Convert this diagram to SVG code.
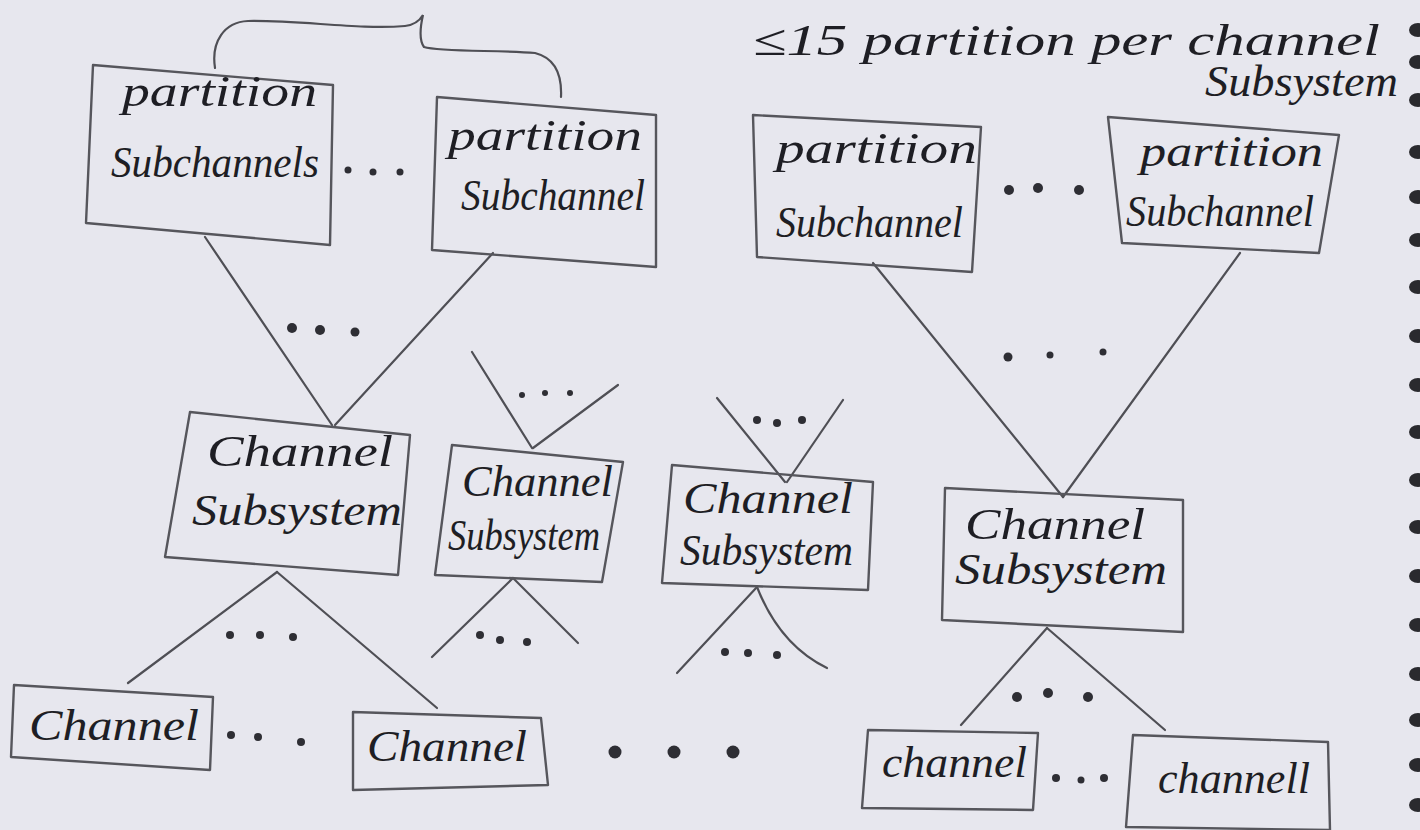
<svg xmlns="http://www.w3.org/2000/svg" width="1420" height="830" viewBox="0 0 1420 830">
<style>
.bg{fill:#e7e7ee}
.box{fill:none;stroke:#56565c;stroke-width:2.4;stroke-linejoin:round}
.ln{fill:none;stroke:#4f4f55;stroke-width:2.2;stroke-linecap:round}
.t{font-family:"Liberation Serif","DejaVu Serif",serif;font-style:italic;fill:#1e1e24;font-size:44px}
.dot{fill:#2e2e34}
.ring{fill:#2a2a2e}
</style>
<rect class="bg" x="0" y="0" width="1420" height="830"/>

<g id="binding">
<ellipse class="ring" cx="1418" cy="30" rx="9" ry="7"/>
<ellipse class="ring" cx="1418" cy="62" rx="9" ry="7"/>
<ellipse class="ring" cx="1418" cy="100" rx="9" ry="7"/>
<ellipse class="ring" cx="1418" cy="152" rx="9" ry="7"/>
<ellipse class="ring" cx="1418" cy="197" rx="9" ry="7"/>
<ellipse class="ring" cx="1418" cy="240" rx="9" ry="7"/>
<ellipse class="ring" cx="1418" cy="287" rx="9" ry="7"/>
<ellipse class="ring" cx="1418" cy="336" rx="9" ry="7"/>
<ellipse class="ring" cx="1418" cy="385" rx="9" ry="7"/>
<ellipse class="ring" cx="1418" cy="432" rx="9" ry="7"/>
<ellipse class="ring" cx="1418" cy="480" rx="9" ry="7"/>
<ellipse class="ring" cx="1418" cy="527" rx="9" ry="7"/>
<ellipse class="ring" cx="1418" cy="576" rx="9" ry="7"/>
<ellipse class="ring" cx="1418" cy="625" rx="9" ry="7"/>
<ellipse class="ring" cx="1418" cy="674" rx="9" ry="7"/>
<ellipse class="ring" cx="1418" cy="720" rx="9" ry="7"/>
<ellipse class="ring" cx="1418" cy="765" rx="9" ry="7"/>
<ellipse class="ring" cx="1418" cy="805" rx="9" ry="7"/>
</g>

<g id="annotation">
<text class="t" x="753" y="55" font-size="48" textLength="627" lengthAdjust="spacingAndGlyphs">≤15 partition per channel</text>
<text class="t" x="1205" y="96" font-size="44" textLength="193" lengthAdjust="spacingAndGlyphs">Subsystem</text>
</g>

<g id="connectors">
<path class="ln" d="M215,68 C211,42 224,22 248,21 C300,20 360,30 405,26 C414,25 420,20 423,15 C420,28 419,40 424,47 C440,52 500,50 535,53 C555,58 562,75 561,97"/>
<line class="ln" x1="205" y1="237" x2="332" y2="425"/>
<line class="ln" x1="493" y1="253" x2="335" y2="425"/>
<line class="ln" x1="873" y1="263" x2="1063" y2="497"/>
<line class="ln" x1="1240" y1="253" x2="1063" y2="497"/>
<line class="ln" x1="472" y1="352" x2="532" y2="448"/>
<line class="ln" x1="618" y1="385" x2="533" y2="448"/>
<line class="ln" x1="717" y1="398" x2="785" y2="482"/>
<line class="ln" x1="843" y1="400" x2="787" y2="482"/>
<line class="ln" x1="277" y1="572" x2="128" y2="683"/>
<line class="ln" x1="277" y1="572" x2="437" y2="708"/>
<line class="ln" x1="513" y1="578" x2="432" y2="657"/>
<line class="ln" x1="513" y1="578" x2="578" y2="643"/>
<line class="ln" x1="757" y1="587" x2="677" y2="673"/>
<path class="ln" d="M757,587 C770,620 790,650 827,668"/>
<line class="ln" x1="1047" y1="628" x2="961" y2="725"/>
<line class="ln" x1="1047" y1="628" x2="1165" y2="730"/>
</g>

<g id="dots">
<circle class="dot" cx="348" cy="170" r="3.5"/><circle class="dot" cx="373" cy="172" r="3.5"/><circle class="dot" cx="400" cy="172" r="3.5"/>
<circle class="dot" cx="1009" cy="190" r="5"/><circle class="dot" cx="1038" cy="188" r="5"/><circle class="dot" cx="1079" cy="190" r="5"/>
<circle class="dot" cx="292" cy="328" r="5"/><circle class="dot" cx="320" cy="330" r="5"/><circle class="dot" cx="355" cy="332" r="4.5"/>
<circle class="dot" cx="522" cy="395" r="3"/><circle class="dot" cx="545" cy="393" r="3"/><circle class="dot" cx="570" cy="393" r="3"/>
<circle class="dot" cx="757" cy="420" r="4"/><circle class="dot" cx="777" cy="423" r="4"/><circle class="dot" cx="802" cy="420" r="4"/>
<circle class="dot" cx="1008" cy="357" r="4.5"/><circle class="dot" cx="1050" cy="355" r="3.5"/><circle class="dot" cx="1103" cy="352" r="3.5"/>
<circle class="dot" cx="230" cy="635" r="4"/><circle class="dot" cx="260" cy="635" r="4"/><circle class="dot" cx="293" cy="637" r="4"/>
<circle class="dot" cx="480" cy="635" r="4"/><circle class="dot" cx="500" cy="640" r="4"/><circle class="dot" cx="527" cy="642" r="4"/>
<circle class="dot" cx="725" cy="652" r="4"/><circle class="dot" cx="748" cy="653" r="4"/><circle class="dot" cx="777" cy="655" r="4"/>
<circle class="dot" cx="1017" cy="697" r="5"/><circle class="dot" cx="1048" cy="693" r="5"/><circle class="dot" cx="1088" cy="697" r="5"/>
<circle class="dot" cx="231" cy="735" r="4"/><circle class="dot" cx="258" cy="737" r="4"/><circle class="dot" cx="301" cy="742" r="4"/>
<circle class="dot" cx="615" cy="752" r="6.5"/><circle class="dot" cx="674" cy="752" r="6.5"/><circle class="dot" cx="733" cy="752" r="6.5"/>
<circle class="dot" cx="1056" cy="778" r="4"/><circle class="dot" cx="1081" cy="780" r="3.5"/><circle class="dot" cx="1104" cy="778" r="4"/>
</g>

<g id="ps1">
<polygon class="box" points="93,65 333,85 330,245 86,223"/>
<text class="t" x="122" y="106" textLength="195" lengthAdjust="spacingAndGlyphs">partition</text>
<text class="t" x="111" y="177" textLength="208" lengthAdjust="spacingAndGlyphs">Subchannels</text>
</g>
<g id="ps2">
<polygon class="box" points="437,97 656,115 656,267 432,250"/>
<text class="t" x="448" y="150" textLength="194" lengthAdjust="spacingAndGlyphs">partition</text>
<text class="t" x="461" y="210" textLength="184" lengthAdjust="spacingAndGlyphs">Subchannel</text>
</g>
<g id="ps3">
<polygon class="box" points="753,115 981,127 972,272 757,257"/>
<text class="t" x="776" y="163" textLength="201" lengthAdjust="spacingAndGlyphs">partition</text>
<text class="t" x="776" y="237" textLength="187" lengthAdjust="spacingAndGlyphs">Subchannel</text>
</g>
<g id="ps4">
<polygon class="box" points="1108,117 1339,135 1319,253 1122,243"/>
<text class="t" x="1140" y="166" textLength="183" lengthAdjust="spacingAndGlyphs">partition</text>
<text class="t" x="1126" y="226" textLength="188" lengthAdjust="spacingAndGlyphs">Subchannel</text>
</g>

<g id="cs1">
<polygon class="box" points="190,412 410,435 398,575 165,557"/>
<text class="t" x="207" y="466" textLength="186" lengthAdjust="spacingAndGlyphs">Channel</text>
<text class="t" x="192" y="525" textLength="210" lengthAdjust="spacingAndGlyphs">Subsystem</text>
</g>
<g id="cs2">
<polygon class="box" points="452,445 623,462 602,582 435,575"/>
<text class="t" x="462" y="496" font-size="40" textLength="151" lengthAdjust="spacingAndGlyphs">Channel</text>
<text class="t" x="448" y="550" font-size="40" textLength="152" lengthAdjust="spacingAndGlyphs">Subsystem</text>
</g>
<g id="cs3">
<polygon class="box" points="672,465 873,482 868,590 662,583"/>
<text class="t" x="683" y="513" font-size="40" textLength="170" lengthAdjust="spacingAndGlyphs">Channel</text>
<text class="t" x="680" y="565" font-size="40" textLength="173" lengthAdjust="spacingAndGlyphs">Subsystem</text>
</g>
<g id="cs4">
<polygon class="box" points="945,488 1183,500 1183,632 942,620"/>
<text class="t" x="965" y="539" textLength="180" lengthAdjust="spacingAndGlyphs">Channel</text>
<text class="t" x="955" y="584" textLength="212" lengthAdjust="spacingAndGlyphs">Subsystem</text>
</g>

<g id="ch1">
<polygon class="box" points="14,685 213,697 210,770 11,757"/>
<text class="t" x="29" y="740" textLength="170" lengthAdjust="spacingAndGlyphs">Channel</text>
</g>
<g id="ch2">
<polygon class="box" points="353,712 541,718 548,785 353,790"/>
<text class="t" x="367" y="761" textLength="160" lengthAdjust="spacingAndGlyphs">Channel</text>
</g>
<g id="ch3">
<polygon class="box" points="868,730 1038,733 1033,810 862,808"/>
<text class="t" x="882" y="777" font-size="40" textLength="145" lengthAdjust="spacingAndGlyphs">channel</text>
</g>
<g id="ch4">
<polygon class="box" points="1133,735 1328,742 1330,830 1126,827"/>
<text class="t" x="1158" y="793" textLength="152" lengthAdjust="spacingAndGlyphs">channell</text>
</g>
</svg>
